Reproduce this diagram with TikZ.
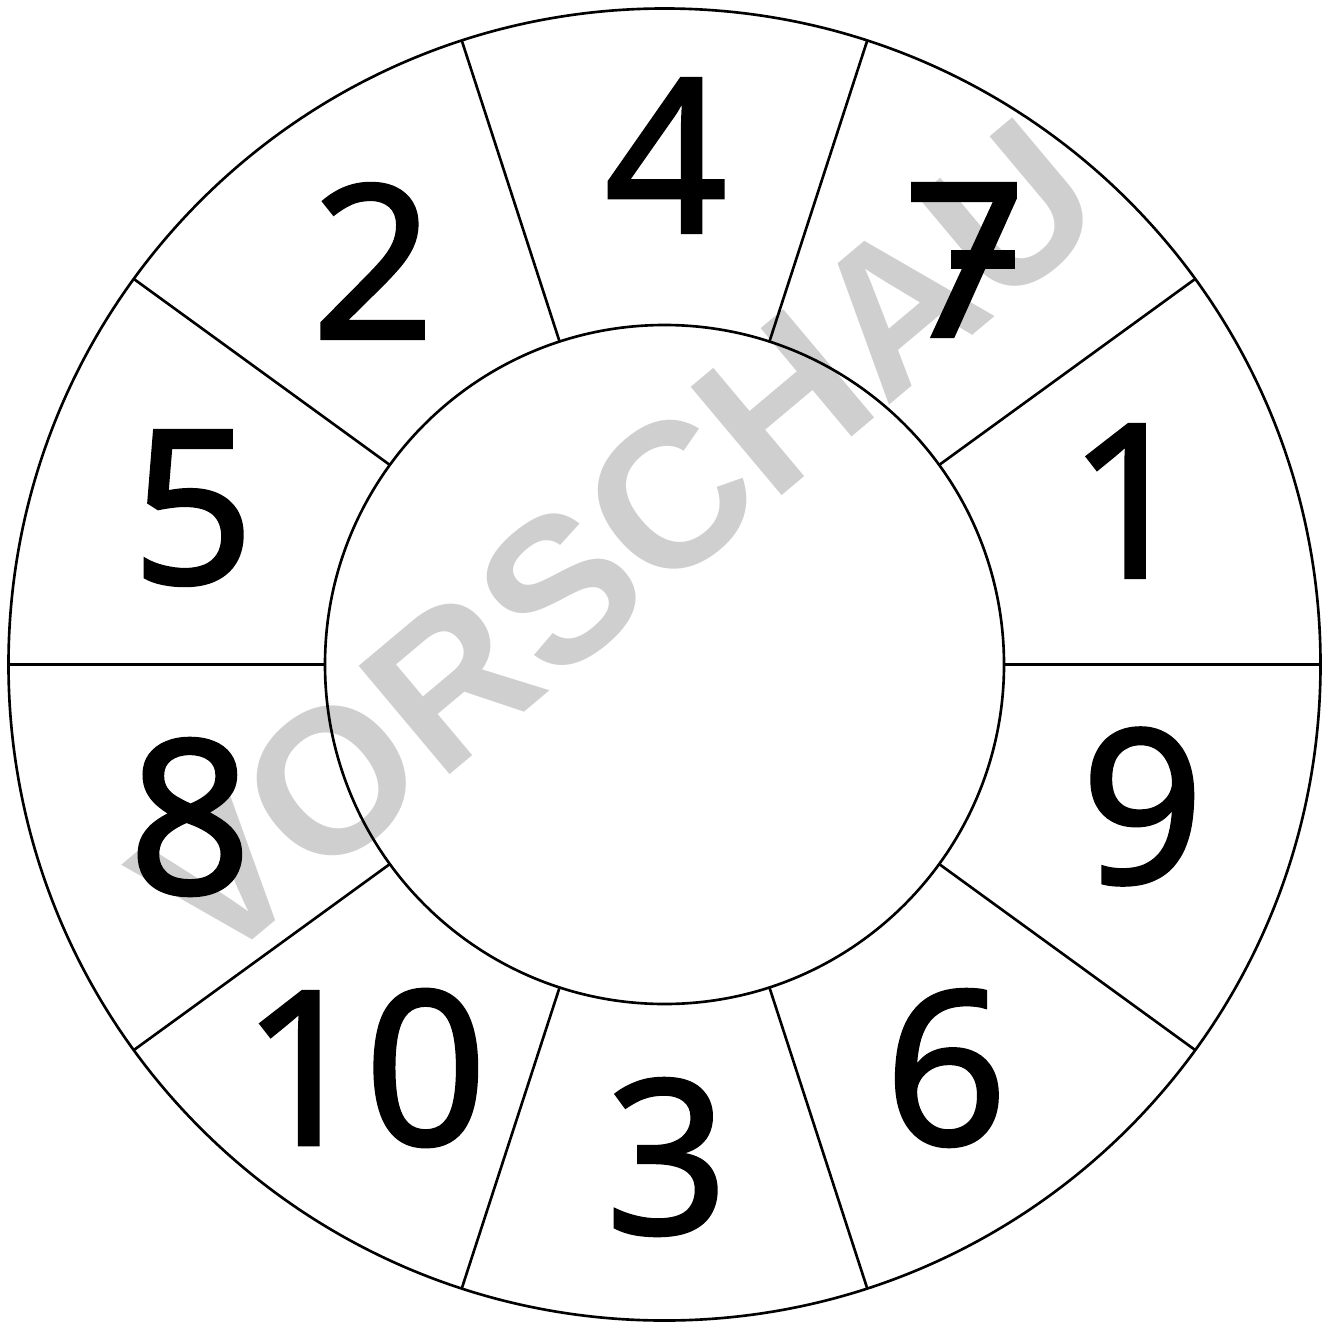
\documentclass[tikz,border=0pt]{standalone}
\usepackage{fontspec}
\usepackage{tikz}
\newfontfamily\digitfont{Noto Sans}[FakeBold=1.5]
\newfontfamily\markfont{Liberation Sans}
\newcommand\crossseven{7\llap{\rule[0.317em]{0.30em}{0.085em}\hspace{0.05em}}}
\tikzset{
  zahl/.style={inner sep=0pt,font=\digitfont\fontsize{61}{61}\selectfont},
  rand/.style={line width=0.75pt},
  vorschau/.style={inner sep=0pt,text=black!19,rotate=40,font=\markfont\bfseries\fontsize{58.5}{58.5}\selectfont}
}
\begin{document}
\begin{tikzpicture}
\useasboundingbox (-6.645,-6.575) rectangle (6.645,6.645);
% Wasserzeichen
\node[vorschau] (wm) at (-0.475,1.225) {VORSCHAU};
% Ring mit zehn Feldern
\draw[rand] (0,0) circle (6.56);
\draw[rand] (0,0) circle (3.395);
\foreach \w in {0,36,...,324}
  \draw[rand] (\w:3.395) -- (\w:6.56);
% Zahlen
\node[zahl] (n4) at (0.015,5.09) {4};
\node[zahl] (n7) at (3.0,4.045) {\crossseven};
\node[zahl] (n1) at (4.65,1.635) {1};
\node[zahl] (n9) at (4.78,-1.42) {9};
\node[zahl] (n6) at (2.815,-4.035) {6};
\node[zahl] (n3) at (0.025,-4.925) {3};
\node[zahl] (n10) at (-3.0,-4.035) {10};
\node[zahl] (n8) at (-4.745,-1.525) {8};
\node[zahl] (n5) at (-4.715,1.565) {5};
\node[zahl] (n2) at (-2.915,4.035) {2};
\end{tikzpicture}
\end{document}
